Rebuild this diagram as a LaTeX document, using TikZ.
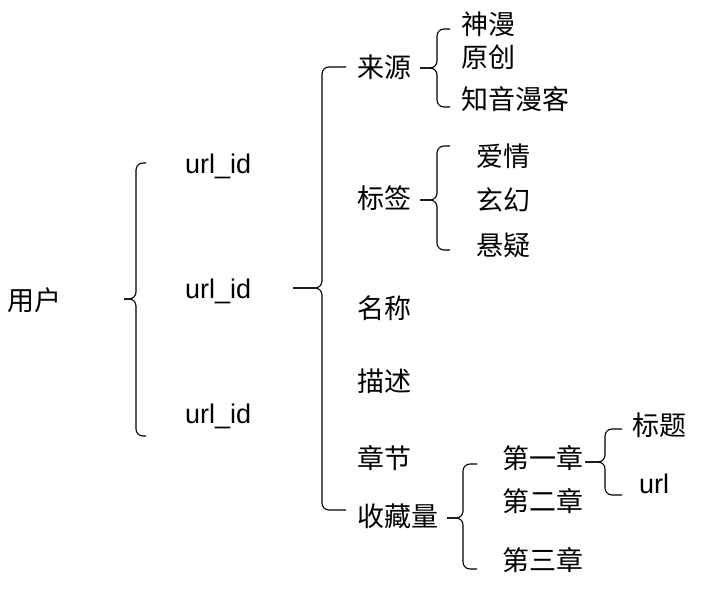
\documentclass[tikz,border=0pt]{standalone}
\usepackage{fontspec}
\setmainfont{Liberation Sans}
\newfontfamily\cjk{Noto Sans CJK SC}
\newcommand{\mybrace}[6]{% tipx, vx, hookx, ytop, ymid, ybot
  \draw[brace] (#3,#4) -- (#2,#4) -- (#2,#5) -- (#1,#5);
  \draw[brace] (#3,#6) -- (#2,#6) -- (#2,#5) -- (#1,#5);
}
\begin{document}
\begin{tikzpicture}[x=1pt,y=-1pt,
  brace/.style={draw=black,line width=1.1pt,rounded corners=7pt},
  zh/.style={anchor=base west,inner sep=0pt,font=\cjk\fontsize{27}{30}\selectfont},
  en/.style={anchor=base west,inner sep=0pt,font=\fontsize{27}{30}\selectfont}]
\useasboundingbox[fill=white] (0,0) rectangle (716,594);
% level 0
\node[zh] (user) at (7,310) {用户};
% level 1
\node[en] (u1) at (185,173) {url\_id};
\node[en] (u2) at (185,298) {url\_id};
\node[en] (u3) at (185,423) {url\_id};
% level 2
\node[zh] (src) at (357,78) {来源};
\node[zh] (tag) at (357,208) {标签};
\node[zh] (name) at (357,318) {名称};
\node[zh] (desc) at (357,391) {描述};
\node[zh] (chap) at (357,468) {章节};
\node[zh] (fav) at (357,526) {收藏量};
% level 3
\node[zh] (s1) at (461,35) {神漫};
\node[zh] (s2) at (461,68) {原创};
\node[zh] (s3) at (461,110) {知音漫客};
\node[zh] (t1) at (476,166) {爱情};
\node[zh] (t2) at (476,210) {玄幻};
\node[zh] (t3) at (476,255) {悬疑};
\node[zh] (c1) at (502,468) {第一章};
\node[zh] (c2) at (502,511) {第二章};
\node[zh] (c3) at (502,570) {第三章};
% level 4
\node[zh] (ti) at (632,435) {标题};
\node[en] (ur) at (639,493) {url};
% braces
\mybrace{124}{136}{146}{163}{299}{436}
\mybrace{293}{322}{346}{67}{288}{510}
\mybrace{420}{437}{450}{29}{68}{107}
\mybrace{420}{437}{450}{146}{200}{250}
\mybrace{447}{463}{477}{464}{518}{569}
\mybrace{585}{605}{622}{429}{462}{495}
\end{tikzpicture}
\end{document}
